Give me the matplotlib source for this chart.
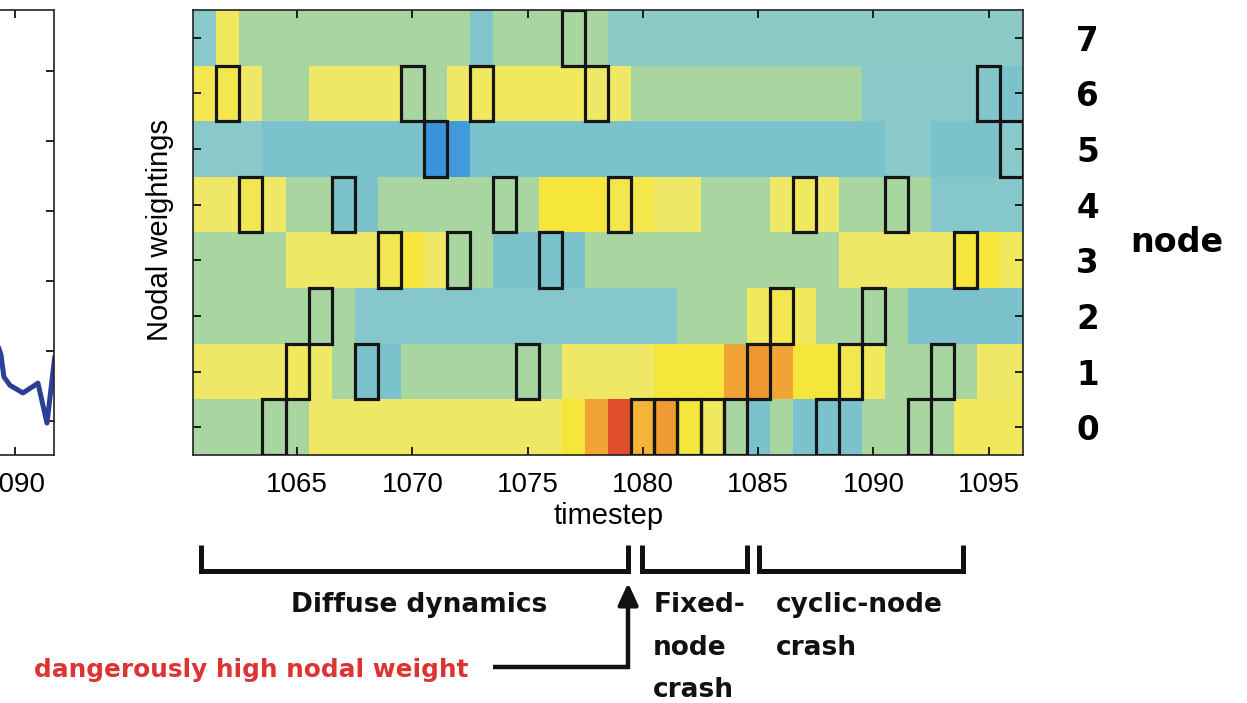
import numpy as np
import matplotlib
matplotlib.use("Agg")
import matplotlib.pyplot as plt
import matplotlib.transforms as mtransforms
from matplotlib.colors import LinearSegmentedColormap
from matplotlib.patches import Rectangle

# --- data ---
timesteps = np.arange(1061, 1097)
nodes = np.arange(8)

# colour level of each cell, 0 = low (blue) ... 1 = high (red)
w_node0 = [0.45, 0.45, 0.45, 0.45, 0.45, 0.6, 0.6, 0.6, 0.6, 0.6, 0.6, 0.6, 0.6, 0.6, 0.6, 0.6,
           0.7, 0.82, 1.0, 0.78, 0.84, 0.7, 0.62, 0.45, 0.3, 0.45, 0.3, 0.3, 0.3, 0.45, 0.45, 0.45,
           0.45, 0.62, 0.62, 0.62]
w_node1 = [0.6, 0.6, 0.6, 0.6, 0.62, 0.6, 0.45, 0.3, 0.3, 0.45, 0.45, 0.45, 0.45, 0.45, 0.45, 0.45,
           0.6, 0.6, 0.6, 0.6, 0.7, 0.7, 0.7, 0.82, 0.86, 0.82, 0.7, 0.7, 0.65, 0.62, 0.45, 0.45,
           0.45, 0.45, 0.6, 0.6]
w_node2 = [0.45, 0.45, 0.45, 0.45, 0.45, 0.45, 0.45, 0.33, 0.33, 0.33, 0.33, 0.33, 0.33, 0.33, 0.33, 0.33,
           0.33, 0.33, 0.33, 0.33, 0.33, 0.45, 0.45, 0.45, 0.62, 0.65, 0.62, 0.45, 0.45, 0.45, 0.45, 0.3,
           0.3, 0.3, 0.3, 0.3]
w_node3 = [0.45, 0.45, 0.45, 0.45, 0.6, 0.6, 0.6, 0.6, 0.65, 0.7, 0.6, 0.45, 0.45, 0.3, 0.3, 0.3,
           0.3, 0.45, 0.45, 0.45, 0.45, 0.45, 0.45, 0.45, 0.45, 0.45, 0.45, 0.45, 0.6, 0.6, 0.6, 0.6,
           0.6, 0.7, 0.7, 0.62]
w_node4 = [0.6, 0.6, 0.65, 0.6, 0.45, 0.45, 0.3, 0.3, 0.45, 0.45, 0.45, 0.45, 0.45, 0.45, 0.45, 0.7,
           0.7, 0.7, 0.66, 0.66, 0.6, 0.6, 0.45, 0.45, 0.45, 0.6, 0.62, 0.6, 0.45, 0.45, 0.45, 0.45,
           0.33, 0.33, 0.33, 0.33]
w_node5 = [0.34, 0.34, 0.34, 0.3, 0.3, 0.3, 0.3, 0.3, 0.3, 0.3, 0.0, 0.04, 0.3, 0.3, 0.3, 0.3,
           0.3, 0.3, 0.3, 0.3, 0.3, 0.3, 0.3, 0.3, 0.3, 0.3, 0.3, 0.3, 0.3, 0.3, 0.34, 0.34,
           0.3, 0.3, 0.3, 0.34]
w_node6 = [0.65, 0.66, 0.6, 0.45, 0.45, 0.6, 0.6, 0.6, 0.6, 0.45, 0.45, 0.6, 0.62, 0.62, 0.62, 0.62,
           0.62, 0.6, 0.6, 0.45, 0.45, 0.45, 0.45, 0.45, 0.45, 0.45, 0.45, 0.45, 0.45, 0.34, 0.34, 0.34,
           0.34, 0.34, 0.32, 0.3]
w_node7 = [0.34, 0.62, 0.45, 0.45, 0.45, 0.45, 0.45, 0.45, 0.45, 0.45, 0.45, 0.45, 0.32, 0.45, 0.45, 0.45,
           0.45, 0.45, 0.35, 0.35, 0.35, 0.35, 0.35, 0.35, 0.35, 0.35, 0.35, 0.35, 0.35, 0.35, 0.35, 0.35,
           0.35, 0.35, 0.35, 0.35]
weights = np.array([w_node0, w_node1, w_node2, w_node3, w_node4, w_node5, w_node6, w_node7])

# node that is boxed at each timestep
active_steps = np.arange(1062, 1097)
active_node = [6, 4, 0, 1, 2, 4, 1, 3, 6, 5, 3, 6, 4, 1, 3, 7, 6, 4, 0, 0,
               0, 0, 0, 1, 2, 4, 0, 1, 2, 4, 0, 1, 3, 6, 5]

# tail of the neighbouring panel (cut off at the left edge)
left_t = [1089.0, 1089.3, 1089.45, 1089.75, 1090.4, 1091.15, 1091.6, 1091.98]
left_w = [1.2, 0.95, 0.63, 0.51, 0.4, 0.54, -0.03, 0.9]

phase_labels = [["Diffuse dynamics"], ["Fixed-", "node", "crash"], ["cyclic-node", "crash"]]
phase_start = [1060.82, 1079.97, 1085.05]
phase_end = [1079.36, 1084.53, 1093.9]

cmap = LinearSegmentedColormap.from_list("weights", [
    (0.0, "#3a94dc"), (0.3, "#7cc2cc"), (0.35, "#8ccac8"), (0.45, "#a9d5a0"),
    (0.6, "#eee866"), (0.7, "#f6e63a"), (0.8, "#f2a838"), (0.86, "#ee9830"), (1.0, "#de4e28")])

fig = plt.figure(figsize=(12.47, 7.03), dpi=100)

# --- main heat map ---
ax = fig.add_axes([0.1550, 0.3528, 0.6656, 0.6330])
t_edges = np.append(timesteps - 0.5, timesteps[-1] + 0.5)
n_edges = np.append(nodes - 0.5, nodes[-1] + 0.5)
ax.pcolormesh(t_edges, n_edges, weights, cmap=cmap, vmin=0, vmax=1, shading="flat")
for t, n in zip(active_steps, active_node):
    ax.add_patch(Rectangle((t - 0.5, n - 0.5), 1, 1, fill=False, ec="#151515", lw=2.3, zorder=3))
ax.set_xlim(t_edges[0], t_edges[-1])
ax.set_ylim(n_edges[0], n_edges[-1])
ax.set_xticks(np.arange(1065, 1096, 5))
ax.set_yticks(nodes)
ax.set_yticklabels([str(n) for n in nodes], fontweight="bold", fontsize=23.5, family="DejaVu Sans")
ax.tick_params(axis="x", direction="in", top=True, length=6, width=1.2, labelsize=20, pad=12)
ax.tick_params(axis="y", direction="in", left=True, right=True, labelleft=False, labelright=True,
               length=6, width=1.2, pad=38)
for lab in ax.get_xticklabels():
    lab.set_family("Liberation Sans")
for sp in ax.spines.values():
    sp.set_linewidth(1.2)
    sp.set_color("#222222")
ax.set_xlabel("timestep", fontsize=21, family="Liberation Sans", labelpad=3)
fig.text(160 / 1247, 1 - 230 / 703, "Nodal weightings", rotation=90, ha="center", va="center",
         fontsize=21, family="Liberation Sans")
fig.text(1130 / 1247, 1 - 242 / 703, "node", ha="left", va="center", fontsize=24,
         fontweight="bold", family="DejaVu Sans")

# --- cut-off neighbouring panel ---
axl = fig.add_axes([-0.4812, 0.3528, 0.5245, 0.6330])
axl.plot(left_t, left_w, color="#2b3f98", lw=3.6, solid_joinstyle="round")
axl.set_xlim(1059.3, 1091.95)
axl.set_ylim(-0.486, 5.871)
axl.set_xticks([1090])
axl.set_yticks(np.arange(0, 6))
axl.tick_params(direction="in", top=True, right=True, labelleft=False, length=6, width=1.2,
                labelsize=20, pad=12)
for lab in axl.get_xticklabels():
    lab.set_family("Liberation Sans")
for sp in axl.spines.values():
    sp.set_linewidth(1.2)
    sp.set_color("#222222")

# --- phase brackets and labels below the time axis ---
trans = mtransforms.blended_transform_factory(ax.transData, ax.transAxes)
y_top, y_bot = -0.2022, -0.2607
for s, e in zip(phase_start, phase_end):
    ax.plot([s, s, e, e], [y_top, y_bot, y_bot, y_top], color="#111111", lw=3.6,
            transform=trans, clip_on=False, solid_joinstyle="miter", solid_capstyle="butt")

base_y = [-0.3528, -0.4494, -0.5438]
txt_kw = dict(transform=trans, fontsize=19, fontweight="bold", family="DejaVu Sans",
              va="baseline", color="#111111", clip_on=False)
ax.text((phase_start[0] + phase_end[0]) / 2 + 0.2, base_y[0], phase_labels[0][0], ha="center", **txt_kw)
for i, line in enumerate(phase_labels[1]):
    ax.text(phase_start[1] + 0.48, base_y[i], line, ha="left", **txt_kw)
for i, line in enumerate(phase_labels[2]):
    ax.text(phase_start[2] + 0.7, base_y[i], line, ha="left", **txt_kw)

# arrow from the red note up to the end of the diffuse phase
arrow_x = phase_end[0]
line_y = -0.4764
ax.plot([1073.5, arrow_x, arrow_x], [line_y, line_y, -0.33], color="#111111", lw=3.2,
        transform=trans, clip_on=False, solid_joinstyle="miter", solid_capstyle="butt")
ax.annotate("", xy=(arrow_x, -0.2876), xytext=(arrow_x, -0.34), xycoords=trans, textcoords=trans,
            arrowprops=dict(arrowstyle="-|>,head_length=0.65,head_width=0.3", mutation_scale=20,
                            lw=3.2, color="#111111", shrinkA=0, shrinkB=0))
ax.text(1072.42, -0.4989, "dangerously high nodal weight", ha="right", transform=trans,
        fontsize=17.8, fontweight="bold", family="DejaVu Sans", va="baseline", color="#dd3333",
        clip_on=False)

fig.savefig("out.png", dpi=100)
